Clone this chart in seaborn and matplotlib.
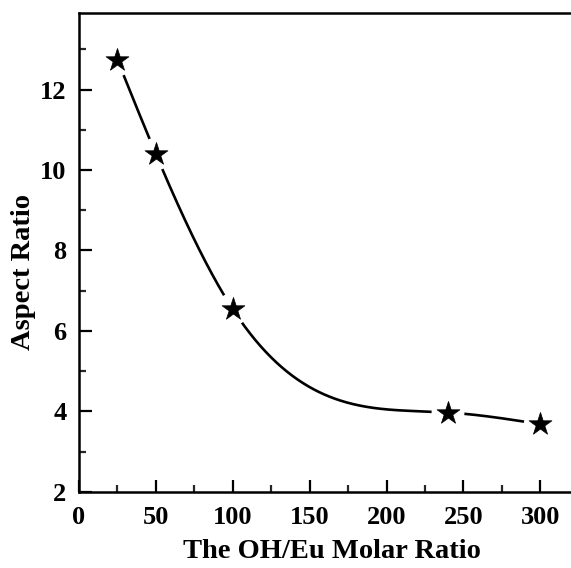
import numpy as np
import pandas as pd
import matplotlib
matplotlib.use("Agg")
import matplotlib.pyplot as plt
import seaborn as sns
from matplotlib.ticker import MultipleLocator

# Measured aspect ratio vs. OH/Eu molar ratio
oh_eu_ratio = [25, 50, 100, 240, 300]
aspect_ratio = [12.74, 10.40, 6.54, 3.97, 3.68]
x_ticks = [0, 50, 100, 150, 200, 250, 300]
y_ticks = [2, 4, 6, 8, 10, 12]


def natural_spline(x, y, xs):
    """Natural cubic spline through (x, y), evaluated at xs."""
    x = np.asarray(x, float)
    y = np.asarray(y, float)
    n = len(x)
    h = np.diff(x)
    A = np.zeros((n, n))
    b = np.zeros(n)
    A[0, 0] = A[-1, -1] = 1.0
    for i in range(1, n - 1):
        A[i, i - 1] = h[i - 1]
        A[i, i] = 2 * (h[i - 1] + h[i])
        A[i, i + 1] = h[i]
        b[i] = 3 * ((y[i + 1] - y[i]) / h[i] - (y[i] - y[i - 1]) / h[i - 1])
    c = np.linalg.solve(A, b)
    out = np.empty_like(xs)
    for j, xv in enumerate(xs):
        i = min(max(np.searchsorted(x, xv) - 1, 0), n - 2)
        dx = xv - x[i]
        bi = (y[i + 1] - y[i]) / h[i] - h[i] * (2 * c[i] + c[i + 1]) / 3
        di = (c[i + 1] - c[i]) / (3 * h[i])
        out[j] = y[i] + bi * dx + c[i] * dx ** 2 + di * dx ** 3
    return out


points = pd.DataFrame({"ratio": oh_eu_ratio, "aspect": aspect_ratio})
xs = np.linspace(min(oh_eu_ratio), max(oh_eu_ratio), 400)
curve = pd.DataFrame({"ratio": xs, "aspect": natural_spline(oh_eu_ratio, aspect_ratio, xs)})

sns.set_theme(style="ticks")
plt.rcParams["font.family"] = ["Liberation Serif", "DejaVu Serif"]
plt.rcParams["font.weight"] = "bold"
plt.rcParams["text.color"] = "black"
plt.rcParams["axes.labelcolor"] = "black"

fig = plt.figure(figsize=(5.71, 5.68), dpi=100)
ax = fig.add_axes([0.1384, 0.1343, 0.8616, 0.8423])

sns.lineplot(data=curve, x="ratio", y="aspect", ax=ax, color="black",
             linewidth=1.9, sort=True, zorder=2)
# white halo leaves a gap in the curve around each star
sns.scatterplot(data=points, x="ratio", y="aspect", ax=ax, marker="o",
                s=560, color="white", edgecolor="none", zorder=3)
sns.scatterplot(data=points, x="ratio", y="aspect", ax=ax, marker="*",
                s=300, color="black", edgecolor="black", linewidth=0.5, zorder=4)

ax.set_xlim(0, 320)
ax.set_ylim(2, 13.9)
ax.set_xticks(x_ticks)
ax.set_yticks(y_ticks)
ax.xaxis.set_minor_locator(MultipleLocator(25))
ax.yaxis.set_minor_locator(MultipleLocator(1))

ax.tick_params(which="major", direction="in", length=9, width=1.6,
               labelsize=19, pad=9, colors="black")
ax.tick_params(which="minor", direction="in", length=5, width=1.6)
ax.tick_params(axis="x", which="major", pad=10)
ax.tick_params(top=False, right=False, which="both")
for lab in ax.get_xticklabels() + ax.get_yticklabels():
    lab.set_fontweight("bold")

for side in ["left", "bottom", "top"]:
    ax.spines[side].set_linewidth(1.8)
    ax.spines[side].set_color("black")
ax.spines["right"].set_visible(False)

ax.set_xlabel("The OH/Eu Molar Ratio", fontsize=20.5, fontweight="bold")
ax.set_ylabel("Aspect Ratio", fontsize=20.5, fontweight="bold")
ax.xaxis.set_label_coords(0.514, -0.098)
ax.yaxis.set_label_coords(-0.087, 0.46)

fig.savefig("out.png", dpi=100)
